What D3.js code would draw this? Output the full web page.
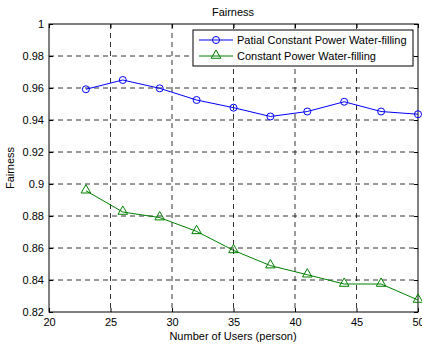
<!DOCTYPE html>
<html><head><meta charset="utf-8">
<script src="https://cdn.jsdelivr.net/npm/d3@7"></script>
<style>body{margin:0;background:#fff}svg{display:block;font-family:"Liberation Sans",Arial,sans-serif}</style>
</head><body><svg id="c" width="422" height="345"></svg>
<script>
const users = [23,26,29,32,35,38,41,44,47,50];
const partial = [0.9592,0.9650,0.9598,0.9525,0.9477,0.9422,0.9453,0.9514,0.9453,0.9436];
const constant = [0.8958,0.8825,0.8790,0.8704,0.8585,0.8490,0.8433,0.8375,0.8375,0.8275];
const xTicks = [20,25,30,35,40,45,50];
const yTicks = [0.82,0.84,0.86,0.88,0.9,0.92,0.94,0.96,0.98,1];
const seriesNames = ["Patial Constant Power Water-filling","Constant Power Water-filling"];
const colors = ["#0000ff","#008000"];

const svg = d3.select("#c");
const L=49,R=418,T=24,B=312;
const x = d3.scaleLinear().domain([20,50]).range([L,R]);
const y = d3.scaleLinear().domain([0.82,1]).range([B,T]);

// grid
const g = svg.append("g");
g.selectAll(".gx").data(xTicks.slice(1,-1)).enter().append("line")
  .attr("x1",d=>x(d)).attr("x2",d=>x(d)).attr("y1",T).attr("y2",B)
  .attr("stroke","#000").attr("stroke-width",0.8).attr("stroke-dasharray","5,4");
g.selectAll(".gy").data(yTicks.slice(1,-1)).enter().append("line")
  .attr("y1",d=>y(d)).attr("y2",d=>y(d)).attr("x1",L).attr("x2",R)
  .attr("stroke","#000").attr("stroke-width",0.8).attr("stroke-dasharray","5,4");

// axes
const fmt = d=> d===1?"1":d3.format("")(+d.toFixed(2));
const ax = svg.append("g").attr("transform",`translate(0,${B})`)
  .call(d3.axisBottom(x).tickValues(xTicks).tickSize(-4).tickPadding(6));
const ay = svg.append("g").attr("transform",`translate(${L},0)`)
  .call(d3.axisLeft(y).tickValues(yTicks).tickSize(-4).tickPadding(5).tickFormat(fmt));
const axT = svg.append("g").attr("transform",`translate(0,${T})`)
  .call(d3.axisTop(x).tickValues(xTicks).tickSize(-4).tickFormat(""));
const ayR = svg.append("g").attr("transform",`translate(${R},0)`)
  .call(d3.axisRight(y).tickValues(yTicks).tickSize(-4).tickFormat(""));
[ax,ay,axT,ayR].forEach(a=>{
  a.select(".domain").remove();
  a.selectAll("text").attr("font-size",11).attr("fill","#000").attr("font-family","Liberation Sans, Arial, sans-serif");
  a.selectAll("line").attr("stroke","#000");
});
svg.append("rect").attr("x",L).attr("y",T).attr("width",R-L).attr("height",B-T)
  .attr("fill","none").attr("stroke","#000").attr("stroke-width",1);

// series
const line = d3.line().x((d,i)=>x(users[i])).y(d=>y(d));
svg.append("path").datum(partial).attr("d",line).attr("fill","none").attr("stroke",colors[0]).attr("stroke-width",1);
svg.append("path").datum(constant).attr("d",line).attr("fill","none").attr("stroke",colors[1]).attr("stroke-width",1);
svg.selectAll(".m1").data(partial).enter().append("circle")
  .attr("cx",(d,i)=>x(users[i])).attr("cy",d=>y(d)).attr("r",3.5)
  .attr("fill","none").attr("stroke",colors[0]).attr("stroke-width",1);
const tri = d3.symbol().type(d3.symbolTriangle).size(40);
svg.selectAll(".m2").data(constant).enter().append("path")
  .attr("d",tri).attr("transform",(d,i)=>`translate(${x(users[i])},${y(d)-0.5})`)
  .attr("fill","none").attr("stroke",colors[1]).attr("stroke-width",1);

// legend
const lg = svg.append("g");
lg.append("rect").attr("x",193).attr("y",30).attr("width",220).attr("height",36)
  .attr("fill","#fff").attr("stroke","#000").attr("stroke-width",1);
seriesNames.forEach((n,i)=>{
  const yy = 40 + i*16;
  lg.append("line").attr("x1",199).attr("x2",233).attr("y1",yy).attr("y2",yy).attr("stroke",colors[i]);
  if(i===0) lg.append("circle").attr("cx",216).attr("cy",yy).attr("r",3.5).attr("fill","none").attr("stroke",colors[i]);
  else lg.append("path").attr("d",tri).attr("transform",`translate(216,${yy-0.5})`).attr("fill","none").attr("stroke",colors[i]);
  lg.append("text").attr("x",237).attr("y",yy+4).attr("font-size",11).text(n);
});

// labels
svg.append("text").attr("x",233).attr("y",16).attr("text-anchor","middle").attr("font-size",11).text("Fairness");
svg.append("text").attr("x",233).attr("y",340).attr("text-anchor","middle").attr("font-size",11).text("Number of Users (person)");
svg.append("text").attr("transform","translate(14,168) rotate(-90)").attr("text-anchor","middle").attr("font-size",11).text("Fairness");
</script></body></html>
